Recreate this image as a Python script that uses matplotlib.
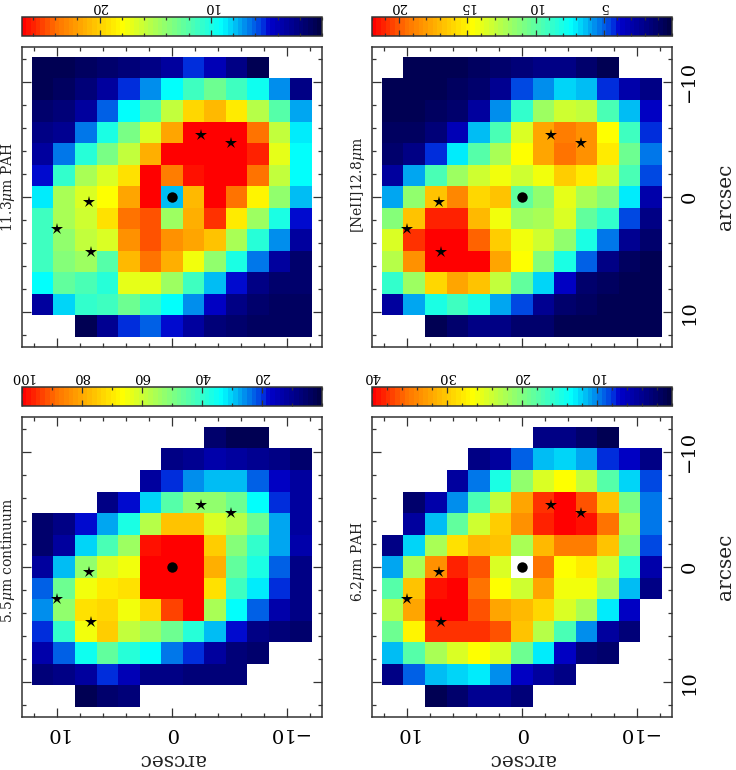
import numpy as np
import matplotlib
matplotlib.use('Agg')
import matplotlib.pyplot as plt
from matplotlib.colors import LinearSegmentedColormap
from matplotlib.ticker import MultipleLocator, FixedLocator, FixedFormatter

plt.rcParams['font.family'] = 'DejaVu Serif'
plt.rcParams['mathtext.fontset'] = 'dejavuserif'

n = np.nan

# cell values, as % of the top of each panel's colour bar
cont55 = [
    [n, n, n, n, n, n, n, n, 5, 3, 2, n, n],
    [n, n, n, n, n, n, 8, 10, 13, 12, 10, 8, 6],
    [n, n, n, n, n, 11, 20, 26, 29, 29, 23, 16, 11],
    [n, n, n, 9, 18, 31, 44, 52, 52, 47, 33, 19, 12],
    [6, 8, 18, 27, 36, 57, 76, 75, 62, 57, 47, 27, 12],
    [5, 12, 31, 43, 54, 98, 100, 100, 74, 50, 40, 28, 13],
    [11, 29, 53, 61, 65, 100, 100, 100, 79, 46, 37, 23, 9],
    [22, 47, 65, 69, 71, 100, 100, 100, 71, 41, 32, 20, 9],
    [26, 52, 71, 72, 65, 73, 93, 100, 55, 34, 23, 13, 9],
    [19, 40, 65, 74, 58, 54, 47, 38, 29, 18, 9, 7, 6],
    [13, 22, 35, 46, 38, 33, 24, 19, 12, 7, 5, n, n],
    [7, 9, 12, 20, 15, 9, 8, 7, 7, 7, n, n, n],
    [n, n, 3, 5, 7, n, n, n, n, n, n, n, n],
]
pah62 = [
    [n, n, n, n, n, n, n, 9, 9, 5, 2, n, n],
    [n, n, n, n, 8, 12, 23, 29, 31, 28, 20, 16, 9],
    [n, n, n, 11, 24, 37, 52, 62, 66, 58, 44, 31, 21],
    [n, 6, 13, 25, 43, 58, 80, 95, 100, 91, 75, 49, 24],
    [n, 12, 29, 46, 60, 74, 84, 96, 100, 98, 88, 55, 24],
    [9, 30, 55, 71, 78, 75, 56, 77, 87, 86, 75, 50, 21],
    [27, 55, 84, 96, 92, 62, n, 89, 66, 69, 60, 38, 13],
    [44, 75, 97, 100, 88, 67, 60, 80, 65, 65, 55, 29, 9],
    [57, 80, 100, 100, 92, 81, 77, 72, 61, 55, 32, 16, n],
    [48, 68, 94, 95, 95, 92, 76, 57, 43, 26, 12, 7, n],
    [29, 44, 55, 61, 66, 62, 48, 32, 17, 7, 5, n, n],
    [9, 22, 29, 31, 32, 26, 17, 11, 8, n, n, n, n],
    [n, n, 2, 6, 10, 10, 7, n, n, n, n, n, n],
]
pah113 = [
    [3, 3, 4, 5, 7, 9, 12, 19, 15, 9, 3, n, n],
    [3, 4, 7, 11, 19, 26, 33, 42, 47, 42, 35, 26, 9],
    [5, 7, 12, 23, 33, 44, 58, 73, 77, 69, 57, 44, 28],
    [8, 10, 24, 37, 49, 61, 80, 100, 100, 100, 88, 59, 32],
    [11, 24, 38, 49, 59, 79, 100, 100, 100, 100, 96, 63, 34],
    [18, 40, 56, 61, 71, 100, 86, 97, 100, 100, 88, 58, 33],
    [32, 55, 61, 66, 80, 100, 29, 77, 100, 88, 68, 53, 29],
    [41, 56, 60, 71, 88, 92, 54, 79, 95, 70, 54, 37, 18],
    [42, 53, 58, 62, 83, 92, 84, 81, 75, 56, 39, 25, 11],
    [41, 50, 54, 44, 77, 89, 79, 65, 52, 36, 24, 11, 6],
    [34, 46, 43, 38, 64, 64, 54, 42, 29, 18, 8, 6, 5],
    [12, 30, 40, 41, 47, 40, 33, 26, 16, 9, 5, 4, 4],
    [n, n, 3, 10, 19, 22, 18, 11, 7, 5, 4, 4, 4],
]
neii128 = [
    [n, 3, 3, 3, 4, 5, 7, 8, 8, 5, 3, n, n],
    [2, 3, 3, 4, 6, 10, 21, 26, 30, 29, 20, 13, 8],
    [3, 3, 4, 6, 12, 26, 40, 54, 60, 58, 43, 29, 17],
    [4, 4, 7, 15, 29, 43, 61, 81, 87, 84, 67, 41, 20],
    [5, 9, 20, 32, 45, 55, 67, 80, 88, 83, 70, 48, 24],
    [11, 28, 43, 54, 60, 65, 60, 65, 74, 69, 60, 43, 21],
    [27, 52, 75, 85, 73, 76, 46, 53, 63, 55, 50, 32, 13],
    [50, 76, 96, 96, 78, 65, 54, 56, 61, 46, 40, 21, 8],
    [62, 94, 100, 100, 90, 74, 65, 60, 53, 36, 24, 10, 5],
    [57, 84, 100, 100, 100, 81, 66, 50, 37, 22, 9, 4, 3],
    [40, 54, 72, 81, 76, 58, 46, 31, 16, 6, 4, 3, 2],
    [12, 28, 36, 41, 37, 28, 21, 10, 6, 4, 3, 2, 2],
    [n, n, 2, 6, 8, 8, 6, 5, 3, 3, 2, 2, 2],
]

# star positions and nucleus, arcsec
star_x = [-2.55, -5.13, 7.19, 10.0, 6.99]
star_y = [-5.38, -4.65, 0.4, 2.8, 4.8]
nucleus_x = [0]
nucleus_y = [0]

labels = [r'5.5$\mu$m continuum', r'6.2$\mu$m PAH', r'11.3$\mu$m PAH', r'[NeII]12.8$\mu$m']
bar_top = [100, 40, 27, 22]
bar_ticks = [[20, 40, 60, 80, 100], [10, 20, 30, 40], [10, 20], [5, 10, 15, 20]]
bar_minor = [10, 2, 2, 1]

W, H = 736, 770
lim = 13.04
half = 12.12  # half width of the 13 pixel map
dark = '#333333'

# reversed jet-like table with a darker blue end
stops = [(0, (0, 0, 0.28)), (0.17, (0, 0, 0.8)), (0.195, (0, 0.22, 0.88)),
         (0.33, (0, 1, 1)), (0.5, (0.5, 1, 0.5)), (0.667, (1, 1, 0)),
         (0.89, (1, 0.45, 0)), (1, (1, 0, 0))]
cmap = LinearSegmentedColormap.from_list('irs', stops, N=64)
cmap.set_bad('white')


def px_axes(fig, left, top, right, bottom):
    return fig.add_axes([left / W, 1 - bottom / H, (right - left) / W, (bottom - top) / H])


fig = plt.figure(figsize=(W / 100, H / 100), dpi=100)

# (column left, row top, data, show bottom labels, show right labels, label y centre px)
panels = [
    (21.7, 416.7, cont55, True, False, 570 / 3 + 370),
    (371.7, 416.7, pah62, True, True, 575 / 3 + 370),
    (21.7, 46.7, pah113, False, False, 561 / 3),
    (371.7, 46.7, neii128, False, True, 555 / 3),
]

for i, (left, top, data, xlab, ylab, label_y) in enumerate(panels):
    ax = px_axes(fig, left, top, left + 300.3, top + 300.5)
    vals = np.array(data, dtype=float) / 100 * bar_top[i]
    im = ax.imshow(vals, cmap=cmap, vmin=0, vmax=bar_top[i], interpolation='nearest',
                   extent=(half, -half, half, -half), aspect='auto')
    ax.set_xlim(lim, -lim)
    ax.set_ylim(lim, -lim)

    ax.plot(star_x, star_y, '*', color='k', ms=9, mew=0, ls='none')
    ax.plot(nucleus_x, nucleus_y, 'o', color='k', ms=7.5, mew=0, ls='none')

    for axis in (ax.xaxis, ax.yaxis):
        axis.set_major_locator(FixedLocator([-10, 0, 10]))
        axis.set_minor_locator(MultipleLocator(2))
        axis.set_major_formatter(FixedFormatter(['\u221210', '0', '10']))
    ax.tick_params(which='major', direction='in', length=6.5, width=0.9, color=dark,
                   top=True, right=True, bottom=True, left=True,
                   labelleft=False, labelbottom=xlab, labelright=ylab, labelsize=14)
    ax.tick_params(which='minor', direction='in', length=3, width=0.9, color=dark,
                   top=True, right=True, bottom=True, left=True)
    ax.tick_params(axis='x', pad=5)
    ax.tick_params(axis='y', pad=6)
    for t in ax.get_xticklabels():
        t.set_rotation(180)
    for t in ax.get_yticklabels():
        t.set_rotation(90)
        t.set_va('center')
    for s in ax.spines.values():
        s.set_color(dark)
        s.set_linewidth(1.1)

    fig.text((left - 13.5) / W, 1 - label_y / H, labels[i], rotation=90, ha='center',
             va='center', fontsize=10, color='#222222')

    if xlab:
        fig.text((left + 150) / W, 1 - 759.5 / H, 'arcsec', rotation=180, ha='center',
                 va='center', fontsize=14.5, color='#222222')
    if ylab:
        fig.text(726 / W, 1 - (top + 150) / H, 'arcsec', rotation=90, ha='center',
                 va='center', fontsize=14.5, color='#222222')

    # colour bar above the panel, running from top value on the left down to 0
    cax = px_axes(fig, left, top - 29.7, left + 300.3, top - 10.7)
    cb = fig.colorbar(im, cax=cax, orientation='horizontal')
    cax.set_xlim(bar_top[i], 0)
    cax.xaxis.set_ticks_position('both')
    cax.xaxis.set_major_locator(FixedLocator(bar_ticks[i]))
    cax.xaxis.set_minor_locator(MultipleLocator(bar_minor[i]))
    cax.tick_params(axis='x', which='major', direction='in', length=4, width=0.9, color=dark,
                    labeltop=True, labelbottom=False, labelsize=9.5, pad=2.8)
    cax.tick_params(axis='x', which='minor', direction='in', length=2.2, width=0.9, color=dark)
    for t in cax.get_xticklabels():
        t.set_rotation(180)
    cb.outline.set_edgecolor(dark)
    cb.outline.set_linewidth(1.1)

fig.savefig('out.png', dpi=100)
